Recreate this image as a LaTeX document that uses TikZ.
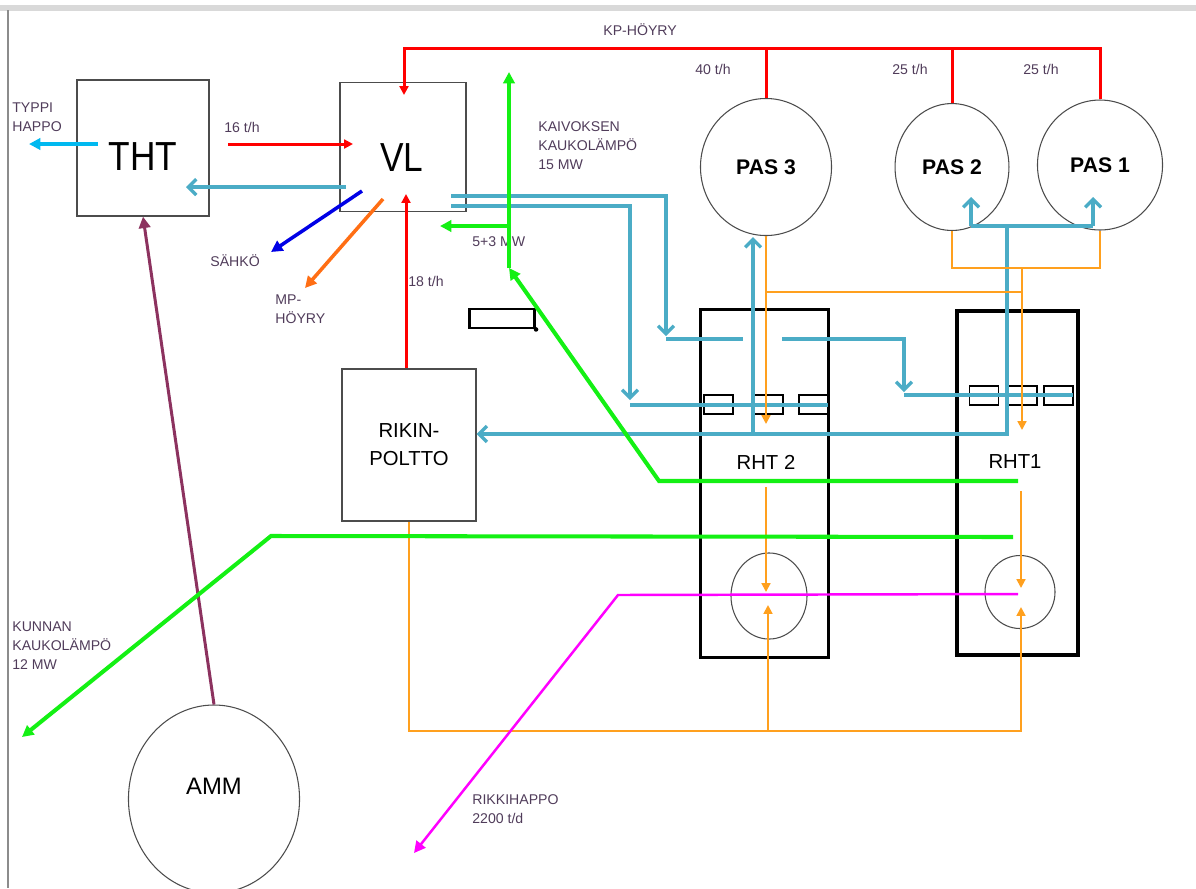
\documentclass[tikz,border=0pt]{standalone}
\usepackage{fontspec}
\setmainfont{Liberation Sans}
\definecolor{plred}{RGB}{255,0,0}
\definecolor{plgreen}{RGB}{20,240,20}
\definecolor{plsteel}{RGB}{75,172,198}
\definecolor{plorange}{RGB}{255,160,30}
\definecolor{plmp}{RGB}{255,110,20}
\definecolor{plblue}{RGB}{0,0,230}
\definecolor{plcyan}{RGB}{0,185,240}
\definecolor{plpurple}{RGB}{140,50,95}
\definecolor{plmagenta}{RGB}{255,0,255}
\definecolor{pltext}{RGB}{80,60,90}
\usetikzlibrary{arrows.meta,positioning,shapes.geometric,calc}

\begin{document}
\begin{tikzpicture}[x=0.567pt,y=-0.567pt,
  plant/.style={draw=black!70,line width=0.7pt,inner sep=0pt},
  tank/.style={draw=black!70,ellipse,line width=0.6pt,inner sep=0pt},
  rht/.style={draw=black,line width=1.7pt,inner sep=0pt},
  cell/.style={draw=black,line width=0.9pt,minimum width=16.4pt,minimum height=10.8pt,inner sep=0pt},
  lbl/.style={font=\fontsize{8}{10.8}\selectfont,text=pltext,align=left,inner sep=0pt,anchor=west},
  big/.style={font=\fontsize{20}{24}\selectfont,inner sep=0pt,yscale=1.15},
  steam/.style={plred,line width=1.7pt},
  gas/.style={plsteel,line width=1.9pt},
  acid/.style={plorange,line width=1.1pt},
  heat/.style={plgreen,line width=2.3pt},
  tri/.style={-{Triangle[length=5pt,width=5pt]}},
  bigtri/.style={-{Triangle[length=6.5pt,width=6.5pt]}},
  barb/.style={-{Straight Barb[length=4.5pt,width=9pt]}}]
  \clip (0,0) rectangle (1196,888);
  % screenshot frame
  \draw[black!15,line width=3pt] (0,8) -- (1196,8);
  \draw[black!45,line width=0.6pt] (8,10) -- (8,888);

  % units
  \node[plant,minimum width=74.8pt,minimum height=77.1pt] (tht) at (143,148) {};
  \node[big] (thttxt) at (143,157) {THT};
  \node[plant,minimum width=71.4pt,minimum height=73.1pt] (vl) at (403,147) {};
  \node[big] (vltxt) at (402,158) {VL};
  \node[plant,minimum width=76pt,minimum height=86.2pt,align=center,
        font=\fontsize{11.5}{15.9}\selectfont] (rikin) at (409,445) {RIKIN-\\POLTTO};
  \node[tank,minimum width=97pt,minimum height=106.6pt] (amm) at (214,799) {};
  \node[font=\fontsize{13.5}{16}\selectfont] (ammtxt) at (214,786) {AMM};
  \node[tank,minimum width=74.3pt,minimum height=77.7pt,font=\bfseries\fontsize{12}{14}\selectfont] (pas3) at (766,167) {PAS 3};
  \node[tank,minimum width=64.6pt,minimum height=72pt,font=\bfseries\fontsize{12}{14}\selectfont] (pas2) at (952,167) {PAS 2};
  \node[tank,minimum width=70.9pt,minimum height=73.7pt,font=\bfseries\fontsize{12}{14}\selectfont] (pas1) at (1100,165) {PAS 1};
  \node[rht,minimum width=73.1pt,minimum height=197.3pt] (rht2) at (764.5,483) {};
  \node[font=\fontsize{11.5}{14}\selectfont] (rht2txt) at (766,462) {RHT 2};
  \node[rht,line width=2pt,minimum width=68.6pt,minimum height=195pt] (rht1) at (1017.5,483) {};
  \node[font=\fontsize{11.5}{14}\selectfont] (rht1txt) at (1015,462) {RHT1};
  \node[cell] (rht2a) at (718.5,404.5) {};
  \node[cell] (rht2b) at (768.5,404.5) {};
  \node[cell] (rht2c) at (813.5,404.5) {};
  \node[cell] (rht1a) at (984,395.5) {};
  \node[cell] (rht1b) at (1022.5,395.5) {};
  \node[cell] (rht1c) at (1058.5,395.5) {};
  \node[tank,minimum width=43.1pt,minimum height=48.8pt] (pump2) at (769,596) {};
  \node[tank,minimum width=39.7pt,minimum height=41.4pt] (pump1) at (1020,592) {};
  \node[draw=black,line width=1.6pt,minimum width=37pt,minimum height=10.8pt,inner sep=0pt] (blank) at (502,318.5) {};
  \fill (blank.south east) circle (1.3pt);

  % labels
  \node[lbl] (typpi) at (12,117) {TYPPI\\HAPPO};
  \node[lbl] (l16) at (224,127) {16 t/h};
  \node[lbl] (sahko) at (210,261) {SÄHKÖ};
  \node[lbl] (mp) at (275,309) {MP-\\HÖYRY};
  \node[lbl] (l18) at (408,281) {18 t/h};
  \node[lbl] (l53) at (472,242) {5+3 MW};
  \node[lbl] (kaivos) at (538,146) {KAIVOKSEN\\KAUKOLÄMPÖ\\15 MW};
  \node[lbl] (kp) at (603,30) {KP-HÖYRY};
  \node[lbl] (l40) at (695,69) {40 t/h};
  \node[lbl] (l25a) at (892,69) {25 t/h};
  \node[lbl] (l25b) at (1023,69) {25 t/h};
  \node[lbl] (kunnan) at (12,646) {KUNNAN\\KAUKOLÄMPÖ\\12 MW};
  \node[lbl] (rikki) at (472,809) {RIKKIHAPPO\\2200 t/d};

  % steam
  \coordinate (kpc) at (404,48);
  \coordinate (vltop) at (404,95);
  \draw[steam,tri] (pas1.north) |- (kpc) -- (vltop);
  \draw[steam] (pas3.north) -- (pas3.north |- kpc);
  \draw[steam] (pas2.north) -- (pas2.north |- kpc);
  \coordinate (s16) at (228,144);
  \coordinate (e16) at (353,144);
  \draw[steam,tri] (s16) -- (e16);
  \coordinate (vlbot) at (406,194);
  \draw[steam,tri] (rikin.north -| vlbot) -- (vlbot);

  % products out of THT and VL
  \coordinate (thtout) at (98,144);
  \coordinate (typpiend) at (29,144);
  \draw[plcyan,line width=2.3pt,bigtri] (thtout) -- (typpiend);
  \coordinate (e1) at (362,191);
  \coordinate (e2) at (271,252);
  \draw[plblue,line width=2pt,bigtri] (e1) -- (e2);
  \coordinate (mp1) at (383,199);
  \coordinate (mp2) at (305,288);
  \draw[plmp,line width=2pt,bigtri] (mp1) -- (mp2);
  \draw[plpurple,line width=1.7pt,bigtri] (amm.north) -- (tht.south);

  % gas lines
  \coordinate (g0) at (346,187);
  \coordinate (thtin) at (186,187);
  \draw[gas,barb] (g0) -- (thtin);
  \coordinate (g1) at (451,196);
  \coordinate (g1a) at (666,336);
  \coordinate (g1b) at (666,339);
  \coordinate (g1c) at (743,339);
  \coordinate (g1d) at (782,339);
  \coordinate (g1e) at (904,392);
  \coordinate (g1f) at (904,395);
  \coordinate (g1g) at (1073,395);
  \draw[gas,barb] (g1) -| (g1a);
  \draw[gas] (g1b) -- (g1c);
  \draw[gas,barb] (g1d) -| (g1e);
  \draw[gas] (g1f) -- (g1g);
  \coordinate (g2) at (451,206);
  \coordinate (g2a) at (630,400);
  \coordinate (g2b) at (630,405);
  \coordinate (g2c) at (828,405);
  \draw[gas,barb] (g2) -| (g2a);
  \draw[gas] (g2b) -- (g2c);
  \coordinate (g3) at (1007,226);
  \coordinate (g3a) at (971,226);
  \coordinate (g3b) at (1093,226);
  \coordinate (p2in) at (971,197);
  \coordinate (p1in) at (1093,197);
  \coordinate (g3c) at (1007,434);
  \coordinate (g3d) at (753,434);
  \coordinate (p3in) at (753,237);
  \draw[gas] (g3a) -- (g3b);
  \draw[gas,barb] (g3a) -- (p2in);
  \draw[gas,barb] (g3b) -- (p1in);
  \draw[gas,barb] (g3) -- (g3c) -- (rikin.east |- g3c);
  \draw[gas,barb] (g3d) -- (p3in);

  % acid lines
  \coordinate (o1) at (1022,268);
  \coordinate (o2) at (1022,430);
  \coordinate (o3) at (766,424);
  \coordinate (o4) at (766,292);
  \draw[acid] (pas2.south) |- (o1) -| (pas1.south);
  \draw[acid,tri] (o1) -- (o2);
  \draw[acid,tri] (pas3.south) -- (o3);
  \draw[acid] (o4) -- (o4 -| o1);
  \coordinate (o5) at (766,487);
  \coordinate (o6) at (766,592);
  \coordinate (o7) at (1021,491);
  \coordinate (o8) at (1021,588);
  \draw[acid,tri] (o5) -- (o6);
  \draw[acid,tri] (o7) -- (o8);
  \coordinate (o10) at (1021,731);
  \coordinate (o11) at (768,605);
  \coordinate (o12) at (1021,607);
  \draw[acid,tri] (rikin.south) |- (o10) -- (o12);
  \draw[acid,tri] (o10 -| o11) -- (o11);

  % heat lines
  \coordinate (h1) at (1018,481);
  \coordinate (h2) at (659,481);
  \coordinate (h3) at (509,268);
  \coordinate (h4) at (509,72);
  \coordinate (h5) at (509,226);
  \coordinate (h6) at (440,226);
  \draw[heat,bigtri] (h1) -- (h2) -- (h3);
  \draw[heat,bigtri] (h3) -- (h4);
  \draw[heat,bigtri] (h5) -- (h6);
  \coordinate (h7) at (1013,537);
  \coordinate (h8) at (271,536);
  \coordinate (h9) at (22,737);
  \draw[heat,bigtri] (h7) -- (h8) -- (h9);

  % sulphuric acid out
  \coordinate (m1) at (1018,594);
  \coordinate (m2) at (618,595);
  \coordinate (m3) at (414,853);
  \draw[plmagenta,line width=1.4pt,bigtri] (m1) -- (m2) -- (m3);
\end{tikzpicture}
\end{document}
